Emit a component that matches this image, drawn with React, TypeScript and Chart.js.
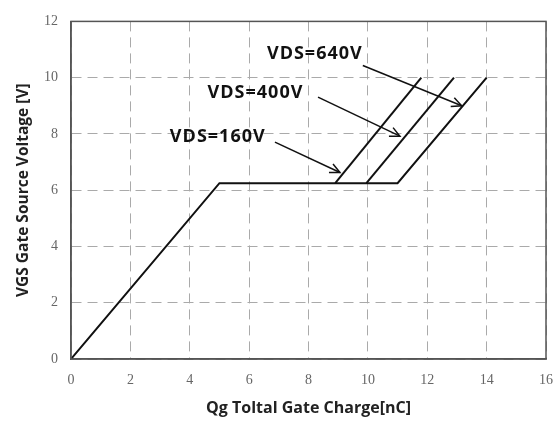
import React, { useEffect, useRef } from "react";
import { Chart, registerables } from "chart.js";

Chart.register(...registerables);

// Main curve (VDS=640V): Qg [nC] vs VGS [V]
const mainQg = [0, 5, 11, 14];
const mainVgs = [0, 6.25, 6.25, 10];
// VDS=160V branch
const v160Qg = [8.9, 11.8];
const v160Vgs = [6.25, 10];
// VDS=400V branch
const v400Qg = [9.95, 12.9];
const v400Vgs = [6.25, 10];

const xTicks = [0, 2, 4, 6, 8, 10, 12, 14, 16];
const yTicks = [0, 2, 4, 6, 8, 10, 12];

// Annotations: label and arrow, in data units
const labelTexts = ["VDS=640V", "VDS=400V", "VDS=160V"];
const labelQg = [6.6, 4.6, 3.33];
const labelVgs = [10.85, 9.45, 7.9];
const arrowFromQg = [9.83, 8.32, 6.87];
const arrowFromVgs = [10.43, 9.31, 7.71];
const arrowToQg = [13.16, 11.08, 9.06];
const arrowToVgs = [9.0, 7.92, 6.63];

const toPts = (xs: number[], ys: number[]) => xs.map((x, i) => ({ x, y: ys[i] }));

const annotationPlugin = {
  id: "annotations",
  afterDraw(chart: any) {
    const { ctx, chartArea, scales } = chart;
    const xs = scales.x;
    const ys = scales.y;
    ctx.save();
    // frame
    ctx.strokeStyle = "#555";
    ctx.lineWidth = 1.5;
    ctx.setLineDash([]);
    ctx.strokeRect(chartArea.left, chartArea.top, chartArea.right - chartArea.left, chartArea.bottom - chartArea.top);
    // labels
    ctx.fillStyle = "#111";
    ctx.font = "bold 18px 'Open Sans'";
    try {
      (ctx as any).letterSpacing = "1px";
    } catch (e) {}
    ctx.textAlign = "left";
    ctx.textBaseline = "middle";
    labelTexts.forEach((t, i) => {
      ctx.fillText(t, xs.getPixelForValue(labelQg[i]), ys.getPixelForValue(labelVgs[i]));
    });
    try {
      (ctx as any).letterSpacing = "0px";
    } catch (e) {}
    // arrows
    ctx.strokeStyle = "#111";
    ctx.lineWidth = 1.5;
    labelTexts.forEach((_, i) => {
      const x1 = xs.getPixelForValue(arrowFromQg[i]);
      const y1 = ys.getPixelForValue(arrowFromVgs[i]);
      const x2 = xs.getPixelForValue(arrowToQg[i]);
      const y2 = ys.getPixelForValue(arrowToVgs[i]);
      ctx.beginPath();
      ctx.moveTo(x1, y1);
      ctx.lineTo(x2, y2);
      ctx.stroke();
      const ang = Math.atan2(y2 - y1, x2 - x1);
      const L = 11;
      const a = 0.45;
      ctx.beginPath();
      ctx.moveTo(x2 - L * Math.cos(ang - a), y2 - L * Math.sin(ang - a));
      ctx.lineTo(x2, y2);
      ctx.lineTo(x2 - L * Math.cos(ang + a), y2 - L * Math.sin(ang + a));
      ctx.stroke();
    });
    ctx.restore();
  },
};

export default function App() {
  const ref = useRef<HTMLCanvasElement | null>(null);
  useEffect(() => {
    document.body.style.margin = "0";
    if (!ref.current) return;
    const lineStyle = {
      showLine: true,
      pointRadius: 0,
      borderColor: "#111",
      borderWidth: 2,
      tension: 0,
      fill: false,
    };
    const chart = new Chart(ref.current, {
      type: "scatter",
      data: {
        datasets: [
          { label: "VDS=640V", data: toPts(mainQg, mainVgs), ...lineStyle },
          { label: "VDS=160V", data: toPts(v160Qg, v160Vgs), ...lineStyle },
          { label: "VDS=400V", data: toPts(v400Qg, v400Vgs), ...lineStyle },
        ],
      },
      options: {
        animation: false,
        responsive: false,
        devicePixelRatio: 1,
        layout: { padding: { top: 15, right: 0, left: 0, bottom: 0 } },
        plugins: { legend: { display: false }, tooltip: { enabled: false } },
        scales: {
          x: {
            type: "linear",
            min: 0,
            max: 16,
            afterBuildTicks: (s: any) => {
              s.ticks = xTicks.map((v) => ({ value: v }));
            },
            afterFit: (s: any) => {
              s.height = 66;
              s.paddingRight = 8;
              s.paddingLeft = 0;
            },
            ticks: {
              padding: 13,
              color: "#666",
              font: { family: "'Liberation Serif'", size: 14 },
            },
            grid: { color: "#aaa", lineWidth: 1, drawTicks: false },
            border: { display: true, color: "#555", width: 1.5, dash: [10, 6] },
            title: {
              display: true,
              text: "Qg Toltal Gate Charge[nC]",
              color: "#222",
              font: { family: "'Open Sans'", size: 16, weight: "bold" },
              padding: { top: 0, bottom: 7 },
            },
          },
          y: {
            type: "linear",
            min: 0,
            max: 12,
            afterBuildTicks: (s: any) => {
              s.ticks = yTicks.map((v) => ({ value: v }));
            },
            afterFit: (s: any) => {
              s.width = 71;
            },
            ticks: {
              padding: 13,
              color: "#666",
              font: { family: "'Liberation Serif'", size: 14 },
            },
            grid: { color: "#aaa", lineWidth: 1, drawTicks: false },
            border: { display: true, color: "#555", width: 1.5, dash: [10, 6] },
            title: {
              display: true,
              text: "VGS Gate Source Voltage [V]",
              color: "#222",
              font: { family: "'Open Sans'", size: 15.5, weight: "bold" },
              padding: { top: 14, bottom: 0 },
            },
          },
        },
      },
      plugins: [annotationPlugin],
    } as any);
    return () => chart.destroy();
  }, []);
  return (
    <div style={{ width: 554, height: 425 }}>
      <canvas ref={ref} width={554} height={425} style={{ width: 554, height: 425, display: "block" }} />
    </div>
  );
}
